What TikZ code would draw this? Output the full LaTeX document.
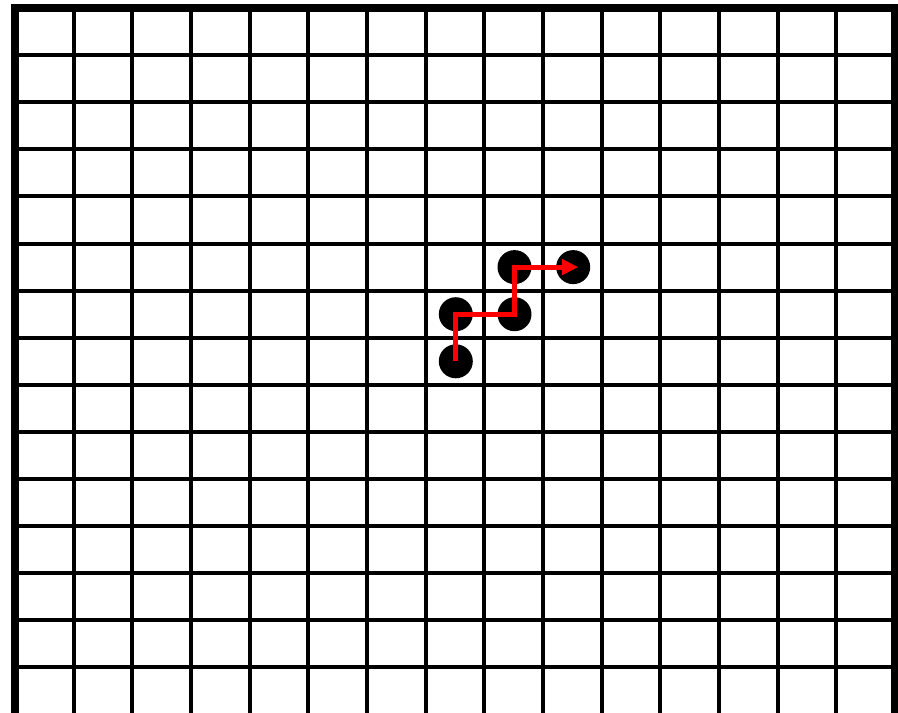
\documentclass[tikz,border=0pt]{standalone}
\usetikzlibrary{arrows.meta}
\tikzset{
  gridline/.style={line width=4pt, black},
  frameline/.style={line width=8pt, black},
  dot/.style={circle, fill=black, minimum size=34pt, inner sep=0pt},
  movepath/.style={line width=5pt, red, line join=miter, -{Triangle[length=16pt,width=15pt]}}
}
\begin{document}
\begin{tikzpicture}[x=1pt,y=-1pt]
\useasboundingbox (0,0) rectangle (898,713);
\clip (0,0) rectangle (898,713);
\fill[white] (0,0) rectangle (898,713);
% inner grid
\foreach \i in {1,...,14} {
  \draw[gridline] ({15+\i*58.667},8) -- ({15+\i*58.667},716);
}
\foreach \j in {1,...,14} {
  \draw[gridline] (15,{8+\j*47.1}) -- (895,{8+\j*47.1});
}
% frame
\draw[frameline] (15,716) -- (15,8) -- (895,8) -- (895,716);
% stones
\node[dot] (p1) at (455.8,361.3) {};
\node[dot] (p2) at (455.8,314.2) {};
\node[dot] (p3) at (514.5,314.2) {};
\node[dot] (p4) at (514.5,267.1) {};
\node[dot] (p5) at (573.2,267.1) {};
% move path
\draw[movepath, shorten >=-5pt] (p1.center) -- (p2.center) -- (p3.center) -- (p4.center) -- (p5.center);
\end{tikzpicture}
\end{document}
